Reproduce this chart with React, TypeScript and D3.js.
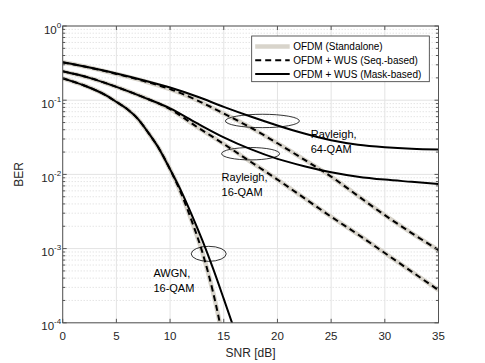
import React, { useEffect, useRef } from "react";
import * as d3 from "d3";

// SNR grid (dB) for the Rayleigh curves
const snrRay = [0, 2.5, 5, 7.5, 10, 12.5, 15, 17.5, 20, 22.5, 25, 27.5, 30, 32.5, 35];
// SNR grid (dB) for the AWGN curves
const snrAwgn = [0, 2, 4, 5, 6, 7, 8, 9, 10, 11, 12, 13, 14, 15, 16];

// Rayleigh 64-QAM
const ray64Seq = [0.324, 0.275, 0.226, 0.182, 0.141, 0.1, 0.0661, 0.0427, 0.0263, 0.0158, 0.00933, 0.00513, 0.00282, 0.00162, 0.000955];
const ray64Mask = [0.324, 0.275, 0.229, 0.186, 0.148, 0.112, 0.0813, 0.0603, 0.0457, 0.0355, 0.0288, 0.0251, 0.0232, 0.0221, 0.0216];
const ray64Alone = ray64Seq;

// Rayleigh 16-QAM
const ray16Seq = [0.245, 0.2, 0.151, 0.11, 0.0759, 0.0437, 0.0257, 0.0148, 0.00851, 0.00479, 0.00269, 0.00155, 0.000871, 0.00049, 0.000275];
const ray16Mask = [0.245, 0.2, 0.151, 0.11, 0.0776, 0.049, 0.0316, 0.0219, 0.0162, 0.0129, 0.0107, 0.00933, 0.00851, 0.00794, 0.00741];
const ray16Alone = ray16Seq;

// AWGN 16-QAM
const awgnSeq = [0.197, 0.158, 0.117, 0.095, 0.076, 0.056, 0.036, 0.0219, 0.0117, 0.0057, 0.0024, 0.0009, 0.00026, 0.000055, 0.00001];
const awgnMask = [0.197, 0.158, 0.117, 0.095, 0.076, 0.056, 0.036, 0.0219, 0.0117, 0.0061, 0.0029, 0.0013, 0.00054, 0.00021, 0.00008];
const awgnAlone = awgnSeq;

const xTicks = [0, 5, 10, 15, 20, 25, 30, 35];
const yExponents = [0, -1, -2, -3, -4];
const legendLabels = ["OFDM (Standalone)", "OFDM + WUS (Seq.-based)", "OFDM + WUS (Mask-based)"];

const FONT = "'Liberation Sans', Arial, Helvetica, sans-serif";

export default function App() {
  const ref = useRef<SVGSVGElement>(null);

  useEffect(() => {
    const width = 485;
    const height = 363;
    const margin = { left: 62.7, top: 26, right: 46.5, bottom: 40.2 };
    const innerW = width - margin.left - margin.right;
    const innerH = height - margin.top - margin.bottom;

    const svg = d3.select(ref.current);
    svg.selectAll("*").remove();

    const x = d3.scaleLinear().domain([0, 35]).range([0, innerW]);
    const y = d3.scaleLog().domain([1e-4, 1]).range([innerH, 0]);

    const g = svg.append("g").attr("transform", "translate(" + margin.left + "," + margin.top + ")");

    svg.append("defs").append("clipPath").attr("id", "plotclip")
      .append("rect").attr("width", innerW).attr("height", innerH);

    // minor grid
    const minors: number[] = [];
    for (let e = -4; e < 0; e++) for (let m = 2; m <= 9; m++) minors.push(m * Math.pow(10, e));
    g.selectAll(".minor").data(minors).enter().append("line")
      .attr("x1", 0).attr("x2", innerW)
      .attr("y1", (d) => y(d)).attr("y2", (d) => y(d))
      .attr("stroke", "#cfcfcf").attr("stroke-width", 0.8).attr("stroke-dasharray", "1,2");

    // major grid
    g.selectAll(".ymaj").data(yExponents).enter().append("line")
      .attr("x1", 0).attr("x2", innerW)
      .attr("y1", (d) => y(Math.pow(10, d))).attr("y2", (d) => y(Math.pow(10, d)))
      .attr("stroke", "#e3e3e3").attr("stroke-width", 1);
    g.selectAll(".xmaj").data(xTicks).enter().append("line")
      .attr("x1", (d) => x(d)).attr("x2", (d) => x(d))
      .attr("y1", 0).attr("y2", innerH)
      .attr("stroke", "#e3e3e3").attr("stroke-width", 1);

    // curves
    const curves = g.append("g").attr("clip-path", "url(#plotclip)");
    const draw = (xs: number[], ys: number[], stroke: string, w: number, dash: string | null) => {
      const pts = xs.map((s, i) => [s, ys[i]] as [number, number]);
      const line = d3.line<[number, number]>()
        .x((d) => x(d[0]))
        .y((d) => y(d[1]))
        .curve(d3.curveMonotoneX);
      curves.append("path").attr("d", line(pts))
        .attr("fill", "none").attr("stroke", stroke).attr("stroke-width", w)
        .attr("stroke-dasharray", dash).attr("stroke-linejoin", "round");
    };
    const grey = "#d8d4cb";
    [[snrRay, ray64Alone], [snrRay, ray16Alone], [snrAwgn, awgnAlone]].forEach((c) => draw(c[0], c[1], grey, 4.5, null));
    [[snrRay, ray64Seq], [snrRay, ray16Seq], [snrAwgn, awgnSeq]].forEach((c) => draw(c[0], c[1], "#000", 2, "6,4"));
    [[snrRay, ray64Mask], [snrRay, ray16Mask], [snrAwgn, awgnMask]].forEach((c) => draw(c[0], c[1], "#000", 2, null));

    // axes box and ticks
    const axisCol = "#555";
    g.append("rect").attr("width", innerW).attr("height", innerH)
      .attr("fill", "none").attr("stroke", axisCol).attr("stroke-width", 1);
    xTicks.forEach((t) => {
      g.append("line").attr("x1", x(t)).attr("x2", x(t)).attr("y1", innerH).attr("y2", innerH - 4).attr("stroke", axisCol);
      g.append("line").attr("x1", x(t)).attr("x2", x(t)).attr("y1", 0).attr("y2", 4).attr("stroke", axisCol);
      g.append("text").attr("x", x(t)).attr("y", innerH + 17.5)
        .attr("text-anchor", "middle").attr("font-family", FONT).attr("font-size", 11.5).attr("fill", "#262626")
        .text(t);
    });
    yExponents.forEach((e) => {
      const yy = y(Math.pow(10, e));
      g.append("line").attr("x1", 0).attr("x2", 4).attr("y1", yy).attr("y2", yy).attr("stroke", axisCol);
      g.append("line").attr("x1", innerW).attr("x2", innerW - 4).attr("y1", yy).attr("y2", yy).attr("stroke", axisCol);
      const t = g.append("text").attr("x", -1.5).attr("y", yy + 7.5)
        .attr("text-anchor", "end").attr("font-family", FONT).attr("font-size", 11.5).attr("fill", "#262626");
      t.append("tspan").text("10");
      t.append("tspan").attr("dy", -6).attr("font-size", 8).text(String(e));
    });
    minors.forEach((m) => {
      const yy = y(m);
      g.append("line").attr("x1", 0).attr("x2", 2.5).attr("y1", yy).attr("y2", yy).attr("stroke", axisCol);
      g.append("line").attr("x1", innerW).attr("x2", innerW - 2.5).attr("y1", yy).attr("y2", yy).attr("stroke", axisCol);
    });

    // axis labels
    svg.append("text").attr("x", margin.left + innerW / 2).attr("y", 356.5)
      .attr("text-anchor", "middle").attr("font-family", FONT).attr("font-size", 12).attr("fill", "#262626")
      .text("SNR [dB]");
    svg.append("text").attr("transform", "translate(22.5," + (margin.top + innerH / 2) + ") rotate(-90)")
      .attr("text-anchor", "middle").attr("font-family", FONT).attr("font-size", 12).attr("fill", "#262626")
      .text("BER");

    // annotations (ellipses + labels), placed in data coordinates
    const ann = [
      { cx: 18.6, cy: 0.0525, rx: 37, ry: 6.7, lx: 23.1, ly: 0.031, lines: ["Rayleigh,", "64-QAM"] },
      { cx: 17.5, cy: 0.019, rx: 29, ry: 6.2, lx: 14.8, ly: 0.0082, lines: ["Rayleigh,", "16-QAM"] },
      { cx: 13.6, cy: 0.00085, rx: 17.5, ry: 7.5, lx: 8.45, ly: 0.00041, lines: ["AWGN,", "16-QAM"] },
    ];
    ann.forEach((a) => {
      g.append("ellipse").attr("cx", x(a.cx)).attr("cy", y(a.cy)).attr("rx", a.rx).attr("ry", a.ry)
        .attr("fill", "none").attr("stroke", "#000").attr("stroke-width", 0.8);
      a.lines.forEach((s, i) => {
        g.append("text").attr("x", x(a.lx)).attr("y", y(a.ly) + i * 15)
          .attr("font-family", FONT).attr("font-size", 11).attr("fill", "#000").text(s);
      });
    });

    // legend
    const lg = svg.append("g").attr("transform", "translate(251.7,36)");
    lg.append("rect").attr("width", 177.6).attr("height", 45.7)
      .attr("fill", "#fff").attr("stroke", "#333").attr("stroke-width", 0.8);
    const styles = [
      { c: grey, w: 4.5, d: null },
      { c: "#000", w: 2, d: "6,4" },
      { c: "#000", w: 2, d: null },
    ];
    legendLabels.forEach((lab, i) => {
      const yy = 10.5 + i * 13.8;
      lg.append("line").attr("x1", 3.5).attr("x2", 38).attr("y1", yy).attr("y2", yy)
        .attr("stroke", styles[i].c).attr("stroke-width", styles[i].w).attr("stroke-dasharray", styles[i].d);
      lg.append("text").attr("x", 41.5).attr("y", yy + 3.6)
        .attr("font-family", FONT).attr("font-size", 10).attr("fill", "#000").text(lab);
    });
  }, []);

  return (
    <svg ref={ref} width={485} height={363} style={{ position: "absolute", left: 0, top: 0, background: "#fff" }} />
  );
}
